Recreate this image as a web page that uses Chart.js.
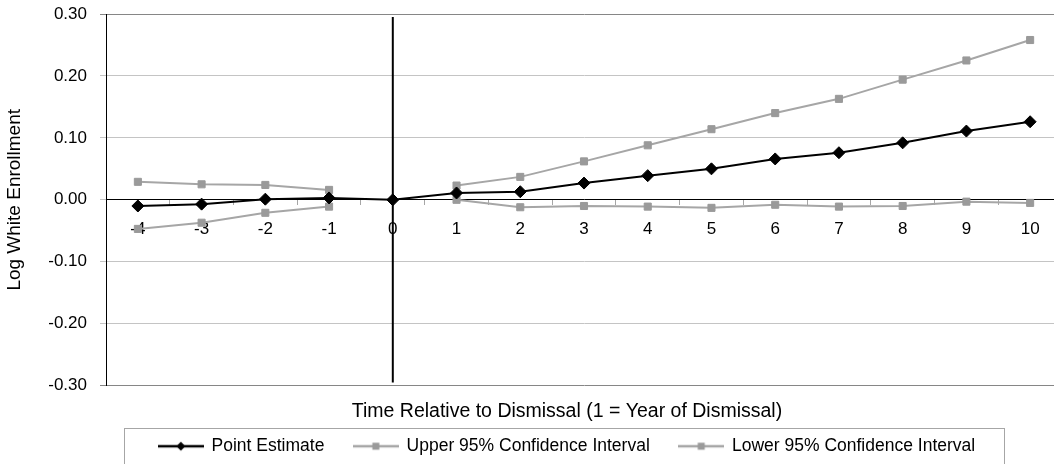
<!DOCTYPE html>
<html>
<head>
<meta charset="utf-8">
<script src="https://cdn.jsdelivr.net/npm/chart.js@4/dist/chart.umd.min.js"></script>
<style>
  html, body { margin: 0; padding: 0; background: #fff; overflow: hidden; }
  #wrap { width: 1134px; height: 465px; }
</style>
</head>
<body>
<div id="wrap"><canvas id="chart" width="1134" height="465"></canvas></div>
<script>
// datos
const categories = ['-4', '-3', '-2', '-1', '0', '1', '2', '3', '4', '5', '6', '7', '8', '9', '10'];
const pointEstimate = [-0.010, -0.007, 0.001, 0.003, 0.000, 0.011, 0.013, 0.027, 0.039, 0.050, 0.066, 0.076, 0.092, 0.111, 0.126];
const upperCI = [0.029, 0.025, 0.024, 0.016, null, 0.023, 0.037, 0.062, 0.088, 0.114, 0.140, 0.163, 0.194, 0.225, 0.258];
const lowerCI = [-0.047, -0.037, -0.021, -0.011, null, 0.000, -0.012, -0.010, -0.011, -0.013, -0.008, -0.011, -0.010, -0.003, -0.005];
const seriesNames = ['Point Estimate', 'Upper 95% Confidence Interval', 'Lower 95% Confidence Interval'];
const yMin = -0.3, yMax = 0.3, yStep = 0.1;
// linea vertical en el año 0
const dividerCategory = '0';
const dividerRange = [0.295, -0.295];

const FONT = "'Liberation Sans', Arial, sans-serif";
const BLACK = '#000000';
const GRAY = '#9a9a9a';
const GRAY_LINE = '#a6a6a6';

Chart.defaults.font.family = FONT;
Chart.defaults.color = '#000';

// iconos de la leyenda: linea con marcador
const makeIcon = (lineColor, markColor, shape) => {
    const c = document.createElement('canvas');
    c.width = 46; c.height = 14;
    const g = c.getContext('2d');
    g.strokeStyle = lineColor;
    g.lineWidth = 2.5;
    g.beginPath(); g.moveTo(0, 7); g.lineTo(46, 7); g.stroke();
    g.fillStyle = markColor;
    g.beginPath();
    if (shape === 'diamond') {
        g.moveTo(23, 2.5); g.lineTo(27.5, 7); g.lineTo(23, 11.5); g.lineTo(18.5, 7);
    } else {
        g.rect(19.5, 3.5, 7, 7);
    }
    g.closePath(); g.fill();
    return c;
};
const legendIcons = [
    makeIcon(BLACK, BLACK, 'diamond'),
    makeIcon(GRAY_LINE, GRAY, 'square'),
    makeIcon(GRAY_LINE, GRAY, 'square')
];

// marco de la leyenda
const legendFrame = {
    id: 'legendFrame',
    afterDraw(chart) {
        const lg = chart.legend;
        const boxes = lg && lg.legendHitBoxes;
        if (!boxes || !boxes.length) return;
        const first = boxes[0], last = boxes[boxes.length - 1];
        const left = Math.round(first.left - 35) + 0.5;
        const right = Math.round(last.left + last.width + 29) + 0.5;
        const top = Math.round(lg.top) + 0.5;
        const ctx = chart.ctx;
        ctx.save();
        ctx.strokeStyle = '#a6a6a6';
        ctx.lineWidth = 1;
        ctx.strokeRect(left, top, right - left, chart.height - top + 10);
        ctx.restore();
    }
};

const isEdge = v => Math.abs(Math.abs(v) - yMax) < 1e-9;

new Chart(document.getElementById('chart'), {
    type: 'line',
    data: {
        labels: categories,
        datasets: [
            {
                label: seriesNames[0],
                data: pointEstimate,
                borderColor: BLACK,
                backgroundColor: BLACK,
                borderWidth: 2,
                pointStyle: 'rectRot',
                pointRadius: 6,
                pointBorderWidth: 1,
                pointBackgroundColor: BLACK,
                pointBorderColor: BLACK,
                tension: 0
            },
            {
                label: seriesNames[1],
                data: upperCI,
                borderColor: GRAY_LINE,
                backgroundColor: GRAY,
                borderWidth: 2,
                pointStyle: 'rect',
                pointRadius: 5,
                pointBorderWidth: 1,
                pointBackgroundColor: GRAY,
                pointBorderColor: GRAY,
                spanGaps: false,
                tension: 0
            },
            {
                label: seriesNames[2],
                data: lowerCI,
                borderColor: GRAY_LINE,
                backgroundColor: GRAY,
                borderWidth: 2,
                pointStyle: 'rect',
                pointRadius: 5,
                pointBorderWidth: 1,
                pointBackgroundColor: GRAY,
                pointBorderColor: GRAY,
                spanGaps: false,
                tension: 0
            },
            {
                label: 'divider',
                data: dividerRange.map(v => ({ x: dividerCategory, y: v })),
                borderColor: BLACK,
                borderWidth: 2,
                pointRadius: 0,
                fill: false
            }
        ]
    },
    options: {
        responsive: false,
        animation: false,
        layout: { padding: { top: 14, left: 0, right: 0, bottom: 0 } },
        scales: {
            x: {
                type: 'category',
                position: { y: 0 },
                offset: true,
                grid: { offset: true, drawOnChartArea: false, tickLength: 5, color: '#a6a6a6' },
                border: { color: BLACK, width: 1 },
                ticks: { padding: 14, font: { size: 17 }, color: '#000', maxRotation: 0, autoSkip: false }
            },
            y: {
                position: 'left',
                min: yMin,
                max: yMax,
                afterFit(scale) {
                    scale.width = 106;
                    scale.paddingTop = 10;
                    scale.paddingBottom = 10;
                },
                ticks: {
                    stepSize: yStep,
                    padding: 13,
                    font: { size: 17 },
                    color: '#000',
                    callback: v => Number(v).toFixed(2)
                },
                grid: {
                    tickLength: 6,
                    lineWidth: 1,
                    color: ctx => isEdge(ctx.tick.value) ? '#868686' : '#c4c4c4'
                },
                border: { color: BLACK, width: 1 },
                title: {
                    display: true,
                    text: 'Log White Enrollment',
                    font: { size: 19 },
                    color: '#000',
                    padding: { top: 3.6, bottom: 0 }
                }
            },
            y2: {
                type: 'linear',
                position: 'right',
                afterFit(scale) { scale.width = 72; },
                grid: { display: false },
                ticks: { display: false },
                border: { display: false }
            }
        },
        plugins: {
            tooltip: { enabled: false },
            title: {
                display: true,
                position: 'bottom',
                weight: 500,
                text: 'Time Relative to Dismissal (1 = Year of Dismissal)',
                font: { size: 19.5, weight: 'normal' },
                color: '#000',
                padding: { top: 14.4, bottom: 4.1 }
            },
            legend: {
                position: 'bottom',
                labels: {
                    usePointStyle: true,
                    pointStyleWidth: 44,
                    padding: 10,
                    font: { size: 17.5 },
                    color: '#000',
                    generateLabels: () => seriesNames.map((name, i) => ({
                        text: name + (i < seriesNames.length - 1 ? '    ' : ''),
                        pointStyle: legendIcons[i],
                        datasetIndex: i,
                        hidden: false,
                        fillStyle: i === 0 ? BLACK : GRAY,
                        strokeStyle: i === 0 ? BLACK : GRAY,
                        lineWidth: 0
                    }))
                }
            }
        }
    },
    plugins: [legendFrame]
});
</script>
</body>
</html>
